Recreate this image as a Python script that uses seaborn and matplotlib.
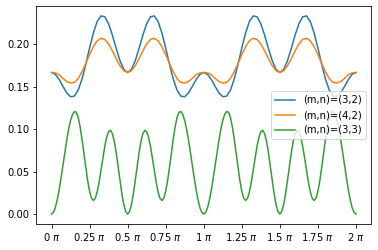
import numpy as np
import pandas as pd
import seaborn as sns
import matplotlib.pyplot as plt

blue_32 = [
    0.1667, 0.1645, 0.1584, 0.1503, 0.1427, 0.1382, 0.1388, 0.1458, 0.1588, 0.1763,
    0.1955, 0.2133, 0.2267, 0.2333, 0.2323, 0.2240, 0.2106, 0.1949, 0.1805, 0.1703,
    0.1667, 0.1703, 0.1805, 0.1949, 0.2106, 0.2240, 0.2323, 0.2333, 0.2267, 0.2133,
    0.1955, 0.1763, 0.1588, 0.1458, 0.1388, 0.1382, 0.1427, 0.1503, 0.1584, 0.1645,
    0.1667, 0.1645, 0.1584, 0.1503, 0.1427, 0.1382, 0.1388, 0.1458, 0.1588, 0.1763,
    0.1955, 0.2133, 0.2267, 0.2333, 0.2323, 0.2240, 0.2106, 0.1949, 0.1805, 0.1703,
    0.1667, 0.1703, 0.1805, 0.1949, 0.2106, 0.2240, 0.2323, 0.2333, 0.2267, 0.2133,
    0.1955, 0.1763, 0.1588, 0.1458, 0.1388, 0.1382, 0.1427, 0.1503, 0.1584, 0.1645,
    0.1667,
]
orange_42 = [
    0.1667, 0.1662, 0.1640, 0.1598, 0.1560, 0.1543, 0.1550, 0.1595, 0.1674, 0.1772,
    0.1877, 0.1971, 0.2040, 0.2070, 0.2056, 0.2003, 0.1922, 0.1830, 0.1746, 0.1688,
    0.1667, 0.1688, 0.1746, 0.1830, 0.1922, 0.2003, 0.2056, 0.2070, 0.2040, 0.1971,
    0.1877, 0.1772, 0.1674, 0.1595, 0.1550, 0.1543, 0.1560, 0.1598, 0.1640, 0.1662,
    0.1667, 0.1662, 0.1640, 0.1598, 0.1560, 0.1543, 0.1550, 0.1595, 0.1674, 0.1772,
    0.1877, 0.1971, 0.2040, 0.2070, 0.2056, 0.2003, 0.1922, 0.1830, 0.1746, 0.1688,
    0.1667, 0.1688, 0.1746, 0.1830, 0.1922, 0.2003, 0.2056, 0.2070, 0.2040, 0.1971,
    0.1877, 0.1772, 0.1674, 0.1595, 0.1550, 0.1543, 0.1560, 0.1598, 0.1640, 0.1662,
    0.1667,
]
# green has sharper wiggles, sampled every 0.0125*pi
green_33 = [
    0.0000, 0.0019, 0.0076, 0.0166, 0.0285, 0.0424, 0.0574, 0.0727, 0.0871, 0.0999,
    0.1102, 0.1172, 0.1207, 0.1200, 0.1140, 0.1031, 0.0886, 0.0719, 0.0549, 0.0393,
    0.0269, 0.0188, 0.0160, 0.0186, 0.0261, 0.0375, 0.0515, 0.0662, 0.0798, 0.0905,
    0.0971, 0.0987, 0.0947, 0.0855, 0.0721, 0.0561, 0.0394, 0.0237, 0.0111, 0.0029,
    0.0000, 0.0029, 0.0111, 0.0237, 0.0394, 0.0561, 0.0721, 0.0855, 0.0947, 0.0987,
    0.0971, 0.0905, 0.0798, 0.0662, 0.0515, 0.0375, 0.0261, 0.0186, 0.0160, 0.0188,
    0.0269, 0.0393, 0.0549, 0.0719, 0.0886, 0.1031, 0.1140, 0.1200, 0.1207, 0.1172,
    0.1102, 0.0999, 0.0871, 0.0727, 0.0574, 0.0424, 0.0285, 0.0166, 0.0076, 0.0019,
    0.0000, 0.0019, 0.0076, 0.0166, 0.0285, 0.0424, 0.0574, 0.0727, 0.0871, 0.0999,
    0.1102, 0.1172, 0.1207, 0.1200, 0.1140, 0.1031, 0.0886, 0.0719, 0.0549, 0.0393,
    0.0269, 0.0188, 0.0160, 0.0186, 0.0261, 0.0375, 0.0515, 0.0662, 0.0798, 0.0905,
    0.0971, 0.0987, 0.0947, 0.0855, 0.0721, 0.0561, 0.0394, 0.0237, 0.0111, 0.0029,
    0.0000, 0.0029, 0.0111, 0.0237, 0.0394, 0.0561, 0.0721, 0.0855, 0.0947, 0.0987,
    0.0971, 0.0905, 0.0798, 0.0662, 0.0515, 0.0375, 0.0261, 0.0186, 0.0160, 0.0188,
    0.0269, 0.0393, 0.0549, 0.0719, 0.0886, 0.1031, 0.1140, 0.1200, 0.1207, 0.1172,
    0.1102, 0.0999, 0.0871, 0.0727, 0.0574, 0.0424, 0.0285, 0.0166, 0.0076, 0.0019,
    0.0000,
]
series_names = ['(m,n)=(3,2)', '(m,n)=(4,2)', '(m,n)=(3,3)']
tick_values = [0, 0.25, 0.5, 0.75, 1, 1.25, 1.5, 1.75, 2]
tick_labels = ['0', '0.25', '0.5', '0.75', '1', '1.25', '1.5', '1.75', '2']

# long format for seaborn
frames = []
for name, vals in zip(series_names, [blue_32, orange_42, green_33]):
    phi = np.linspace(0, 2 * np.pi, len(vals))
    frames.append(pd.DataFrame({'phi': phi, 'value': vals, 'mode': name}))
df = pd.concat(frames, ignore_index=True)

fig = plt.figure(figsize=(378 / 72, 250 / 72), dpi=72)
ax = fig.add_axes([0.096, 0.104, 0.886, 0.872])

sns.lineplot(data=df, x='phi', y='value', hue='mode', hue_order=series_names,
             palette=['#1f77b4', '#ff7f0e', '#2ca02c'], estimator=None,
             sort=False, linewidth=1.5, ax=ax)

ax.set_xticks([v * np.pi for v in tick_values])
ax.set_xticklabels([t + r' $\pi$' for t in tick_labels])
ax.set_xlabel('')
ax.set_ylabel('')

handles, labels = ax.get_legend_handles_labels()
ax.legend(handles, labels, loc='center right')

fig.savefig('out.png', dpi=72)
